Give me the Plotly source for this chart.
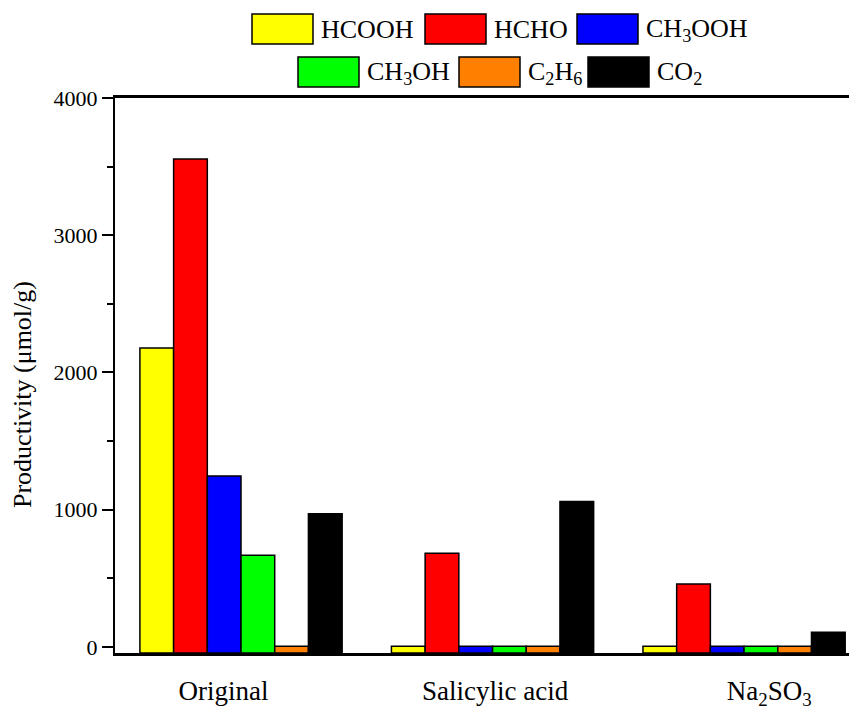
import plotly.graph_objects as go

# ---- data ----
CATEGORIES = ["Original", "Salicylic acid", "Na<sub>2</sub>SO<sub>3</sub>"]
PRODUCTS = ["HCOOH", "HCHO", "CH<sub>3</sub>OOH", "CH<sub>3</sub>OH", "C<sub>2</sub>H<sub>6</sub>", "CO<sub>2</sub>"]
HCOOH = [2178, 5, 5]
HCHO = [3556, 682, 459]
CH3OOH = [1246, 5, 5]
CH3OH = [668, 5, 5]
C2H6 = [5, 5, 5]
CO2 = [971, 1059, 107]
SERIES = [HCOOH, HCHO, CH3OOH, CH3OH, C2H6, CO2]
COLORS = ["#FFFF00", "#FF0000", "#0000FF", "#00FF00", "#FF8000", "#000000"]

Y_MIN, Y_MAX = -44, 4000
Y_TICKS = [0, 1000, 2000, 3000, 4000]

# ---- layout (page pixels; the page body adds an 8px margin) ----
PAGE = 8
W, H = 857 - PAGE, 709 - PAGE
ML, MR, MT, MB = 115 - PAGE, 0, 98 - PAGE, 709 - 653
PW, PH = W - ML - MR, H - MT - MB
FONT = "Liberation Serif, Times New Roman, serif"

# category label positions (labels sit a little off the group centres in the original)
CAT_TICKS = [-0.07, 1.01, 2.10]

# legend: two rows, box left edge and row top (page px)
LEGEND_ROWS = [[0, 1, 2], [3, 4, 5]]
LEGEND_BOX_X = [[252, 425, 577], [298, 459, 588]]
LEGEND_ROW_Y = [14, 57]
BOX_W, BOX_H = 61, 30


def px_x(px):
    return (px - PAGE - ML) / PW


def px_y(py):
    return (H - MB - (py - PAGE)) / PH


fig = go.Figure()
x_pos = list(range(len(CATEGORIES)))
for name, vals, color in zip(PRODUCTS, SERIES, COLORS):
    fig.add_trace(
        go.Bar(
            x=x_pos,
            y=[v - Y_MIN for v in vals],
            base=Y_MIN,
            name=name,
            marker=dict(color=color, line=dict(color="#000000", width=1.5)),
            customdata=vals,
            hovertemplate="%{customdata}<extra>" + name + "</extra>",
        )
    )

# hand-drawn legend with wide swatches
for r, row in enumerate(LEGEND_ROWS):
    for c, idx in enumerate(row):
        x0 = LEGEND_BOX_X[r][c]
        y0 = LEGEND_ROW_Y[r]
        fig.add_shape(
            type="rect", xref="paper", yref="paper",
            x0=px_x(x0), x1=px_x(x0 + BOX_W), y0=px_y(y0), y1=px_y(y0 + BOX_H),
            fillcolor=COLORS[idx], line=dict(color="#000000", width=1.5),
        )
        fig.add_annotation(
            x=px_x(x0 + BOX_W + 6), y=px_y(y0 + BOX_H / 2 + 1), xref="paper", yref="paper",
            text=PRODUCTS[idx], showarrow=False, xanchor="left", yanchor="middle",
            font=dict(family=FONT, size=26, color="#000000"),
        )

# y-axis title placed by hand (sits further out than plotly's standoff allows)
fig.add_annotation(
    x=px_x(22), y=px_y(395), xref="paper", yref="paper",
    text="Productivity (μmol/g)", textangle=-90, showarrow=False,
    xanchor="center", yanchor="middle",
    font=dict(family=FONT, size=26, color="#000000"),
)

fig.update_layout(
    width=W,
    height=H,
    margin=dict(l=ML, r=MR, t=MT, b=MB, autoexpand=False),
    paper_bgcolor="white",
    plot_bgcolor="white",
    barmode="group",
    bargap=0.196,
    bargroupgap=0,
    showlegend=False,
    font=dict(family=FONT, color="#000000"),
)
fig.update_xaxes(
    range=[-0.501, 2.449],
    tickvals=CAT_TICKS,
    ticktext=CATEGORIES,
    ticks="",
    ticklabelstandoff=12,
    tickfont=dict(size=27),
    showline=True,
    linecolor="#000000",
    linewidth=2.5,
    mirror=True,
    showgrid=False,
    zeroline=False,
    automargin=False,
)
fig.update_yaxes(
    range=[Y_MIN, Y_MAX],
    tickvals=Y_TICKS,
    ticks="outside",
    ticklen=11,
    tickwidth=1.5,
    tickcolor="#000000",
    minor=dict(ticks="outside", ticklen=6, tickwidth=1.5, tickcolor="#000000", dtick=500, tick0=0),
    tickfont=dict(size=22),
    showline=True,
    linecolor="#000000",
    linewidth=2,
    showgrid=False,
    zeroline=False,
    automargin=False,
)

fig.write_html("out.html")
